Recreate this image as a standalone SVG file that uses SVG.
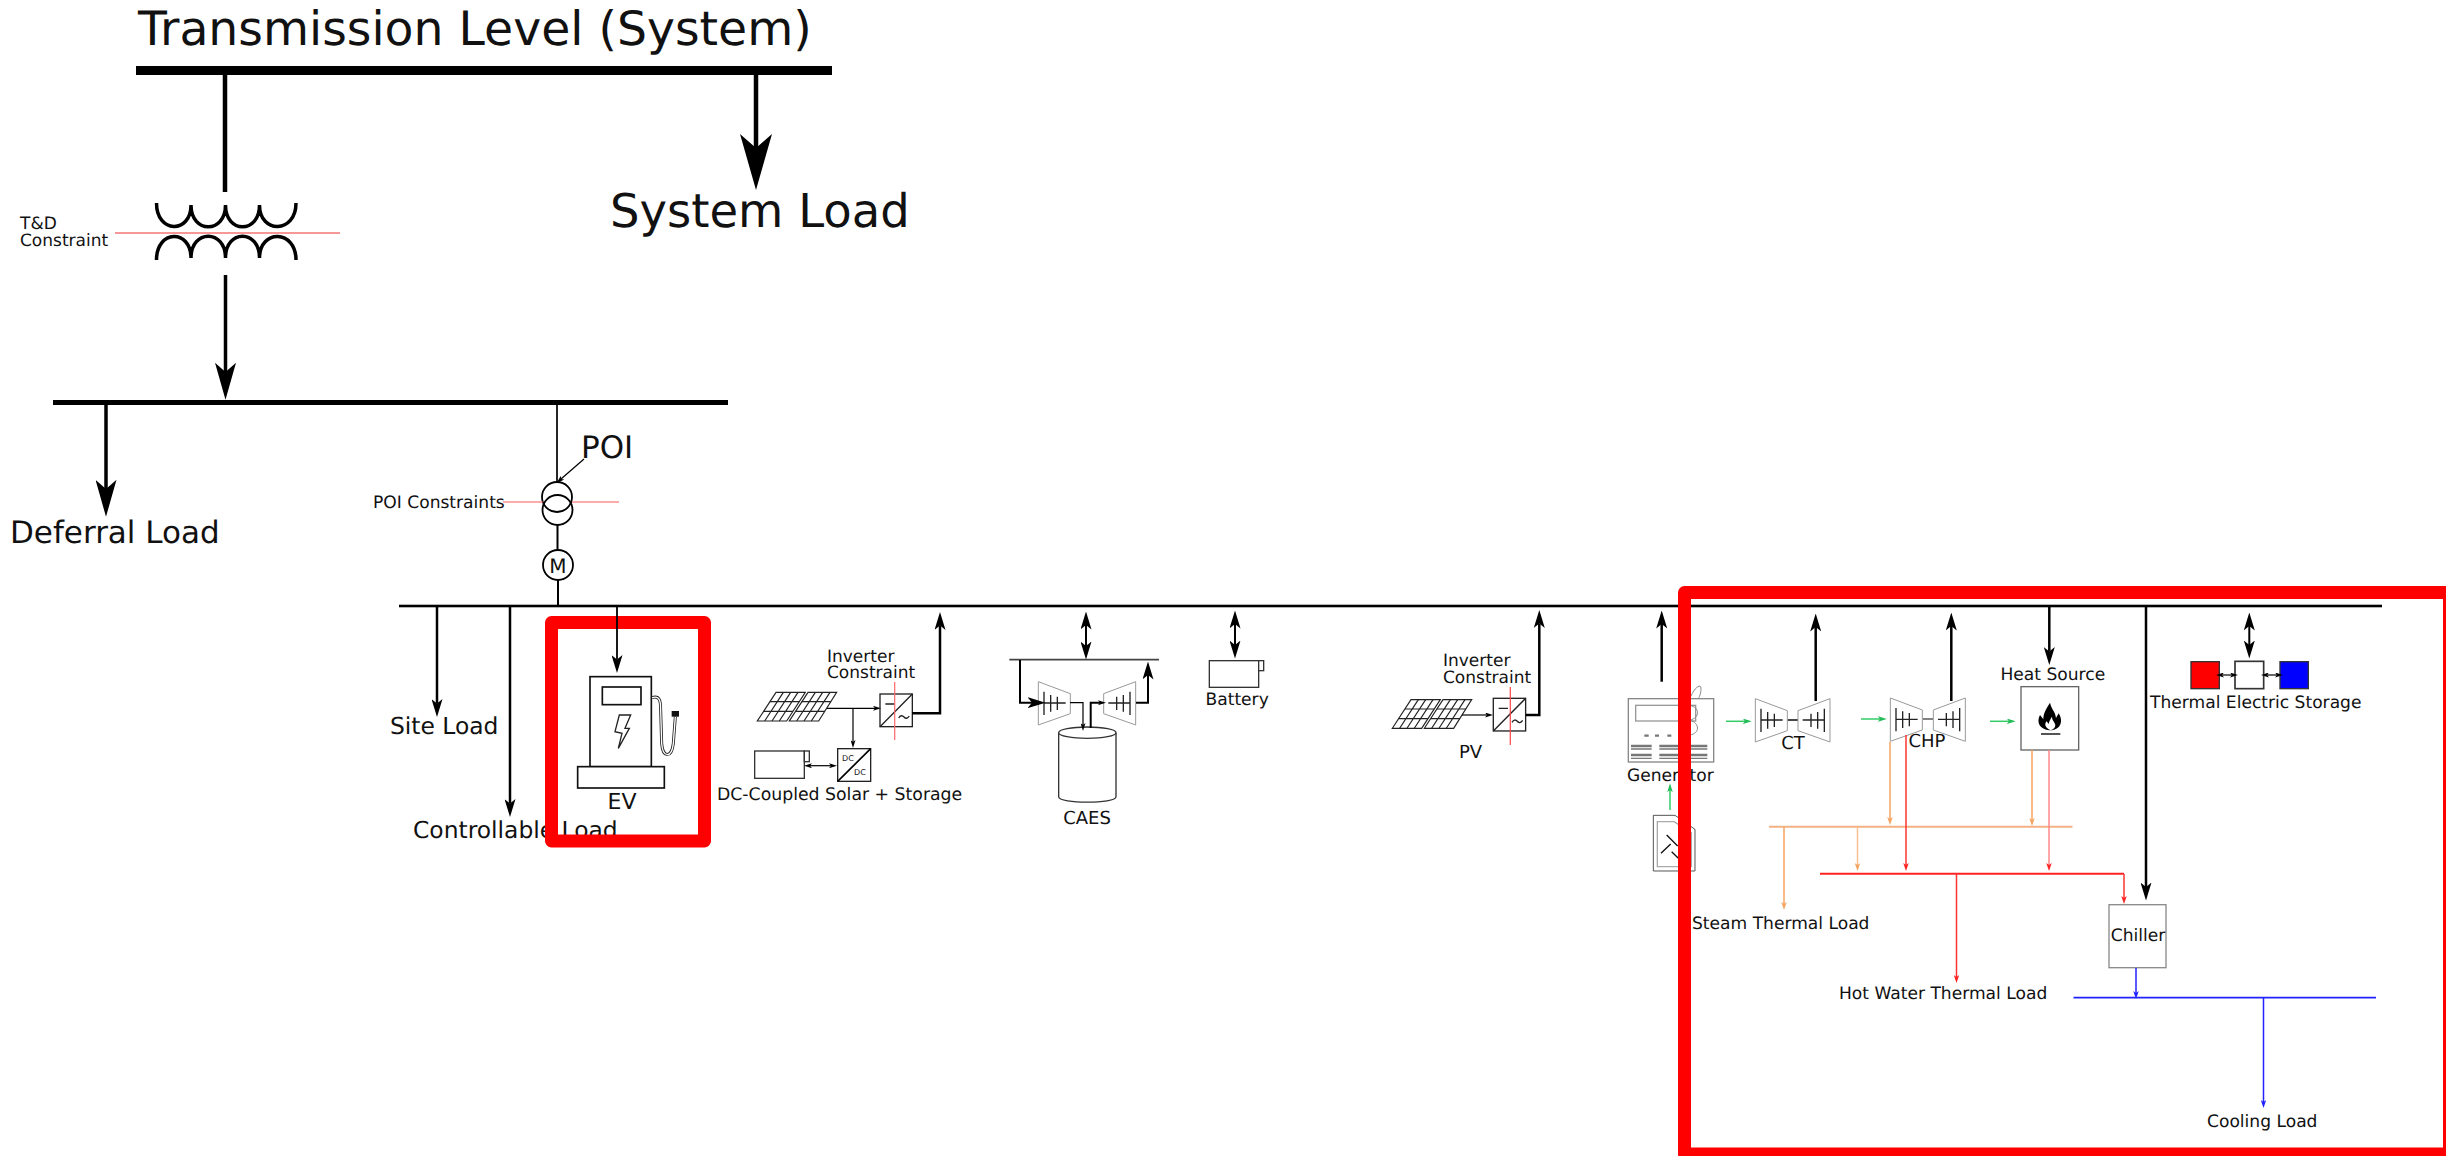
<svg xmlns="http://www.w3.org/2000/svg" width="2446" height="1156" viewBox="0 0 2446 1156">
<style>
text{font-family:"DejaVu Sans","Liberation Sans",sans-serif;fill:#111;text-rendering:geometricPrecision}
.t17{font-size:17.100px}.t16{font-size:17px}.t23{font-size:23.400px}.t30{font-size:31px}.t46{font-size:46.500px}
.ln{fill:none;stroke:#000}
.thin{fill:none;stroke:#000;stroke-width:5}
.hl{fill:none;stroke:#f00;stroke-width:13;stroke-linejoin:round}
.a{fill:none;stroke:#000;stroke-width:2.5}
.as{fill:none;stroke:#000;stroke-width:1.2}
.orange{fill:none;stroke:#f4a460;stroke-width:1.5}
.lorange{fill:none;stroke:#f8c090;stroke-width:1.5}
.red{fill:none;stroke:#f33;stroke-width:1.5}
.lred{fill:none;stroke:#f88;stroke-width:1.5}
.blue{fill:none;stroke:#22f;stroke-width:1.5}
.green{fill:none;stroke:#3c6;stroke-width:1.5}
</style>
<defs>
<marker id="hXL" markerUnits="userSpaceOnUse" markerWidth="56" markerHeight="32" viewBox="0 0 100 100" preserveAspectRatio="none" refX="25" refY="50" orient="auto-start-reverse"><path d="M0,0L100,50L0,100L25,50Z"/></marker>
<marker id="hL" markerUnits="userSpaceOnUse" markerWidth="37" markerHeight="21" viewBox="0 0 100 100" preserveAspectRatio="none" refX="25" refY="50" orient="auto-start-reverse"><path d="M0,0L100,50L0,100L25,50Z"/></marker>
<marker id="hM" markerUnits="userSpaceOnUse" markerWidth="18" markerHeight="11" viewBox="0 0 100 100" preserveAspectRatio="none" refX="25" refY="50" orient="auto-start-reverse"><path d="M0,0L100,50L0,100L25,50Z"/></marker>
<marker id="hS" markerUnits="userSpaceOnUse" markerWidth="8" markerHeight="5" viewBox="0 0 100 100" preserveAspectRatio="none" refX="25" refY="50" orient="auto-start-reverse"><path d="M0,0L100,50L0,100L25,50Z"/></marker>
<marker id="hO" markerUnits="userSpaceOnUse" markerWidth="8" markerHeight="5.5" viewBox="0 0 100 100" preserveAspectRatio="none" refX="25" refY="50" orient="auto"><path fill="#f4a460" d="M0,0L100,50L0,100L25,50Z"/></marker>
<marker id="hR" markerUnits="userSpaceOnUse" markerWidth="8" markerHeight="5.5" viewBox="0 0 100 100" preserveAspectRatio="none" refX="25" refY="50" orient="auto"><path fill="#f22" d="M0,0L100,50L0,100L25,50Z"/></marker>
<marker id="hB" markerUnits="userSpaceOnUse" markerWidth="8" markerHeight="5.5" viewBox="0 0 100 100" preserveAspectRatio="none" refX="25" refY="50" orient="auto"><path fill="#22f" d="M0,0L100,50L0,100L25,50Z"/></marker>
<marker id="hG" markerUnits="userSpaceOnUse" markerWidth="9" markerHeight="5.5" viewBox="0 0 100 100" preserveAspectRatio="none" refX="25" refY="50" orient="auto"><path fill="#2b5" d="M0,0L100,50L0,100L25,50Z"/></marker>
<g id="panel" fill="none" stroke="#222" stroke-width="3.500">
<path d="M172,393H260L316,307H228Z"/><path d="M191,364H279M210,335H298M194,393L250,307M216,393L272,307M238,393L294,307"/>
<path d="M268,393H356L410,307H324Z"/><path d="M287,364H375M305,335H393M290,393L346,307M312,393L368,307M334,393L390,307"/>
</g>
<g id="inv" fill="#fff" stroke="#222" stroke-width="4">
<rect x="0" y="0" width="97" height="98"/><path fill="none" d="M0,98L97,0M16,30H44M56,72q8,-12 16,-3t16,-3"/>
</g>
<g id="turb" fill="none">
<path d="M0,0L96,36V96L0,130Z" fill="#fff" stroke="#999" stroke-width="3"/>
<path stroke="#222" stroke-width="4" d="M17,30V100M37,40V90M57,45V85M17,64H82"/>
</g>
</defs>

<g id="tx-bus"><rect x="136" y="66" width="696" height="9"/><text font-size="47.300" x="138" y="45">Transmission Level (System)</text></g>
<g id="system-load"><text class="t46" x="610" y="227">System Load</text></g>
<g id="td-transformer">
<path class="ln" stroke-width="3.500" d="M156.500,203C156.500,234 191,234 191,205C191,234 225.500,234 225.500,205C225.500,234 259.500,234 259.500,205C259.500,234 296,234 296,203"/>
<path class="ln" stroke-width="3.500" d="M156.500,260C156.500,229 191,229 191,258C191,229 225.500,229 225.500,258C225.500,229 259.500,229 259.500,258C259.500,229 296,229 296,260"/>
<path stroke="#e33" stroke-width="1.200" d="M115,233H340"/>
<text class="t16" x="20" y="229">T&amp;D</text><text class="t16" x="20" y="246">Constraint</text>
</g>
<g id="dist-bus"><rect x="53" y="400" width="675" height="5"/></g>
<g id="deferral-load"><text class="t30" x="10" y="543">Deferral Load</text></g>
<g id="poi">
<circle class="ln" stroke-width="1.800" cx="557" cy="497" r="15"/><circle class="ln" stroke-width="1.800" cx="557.500" cy="510" r="15"/>
<path stroke="#f55" stroke-width="1" d="M503,502H543M572,502H619"/>
<text class="t30" x="581" y="458">POI</text>
<text class="t17" x="373" y="508">POI Constraints</text>
</g>
<g id="meter"><circle class="ln" stroke-width="1.800" cx="558" cy="565" r="15"/><text font-size="20" x="558" y="572.500" text-anchor="middle">M</text></g>
<g id="site-bus"><rect x="399" y="604.700" width="1983" height="2.600"/></g>
<g id="site-load"><text class="t23" x="390" y="734">Site Load</text></g>
<g id="controllable-load"><text class="t23" x="413" y="838">Controllable Load</text></g>
<g id="ev">
<g transform="translate(340,400) scale(.33333)">
<rect x="750" y="830" width="184" height="270" fill="#fff" stroke="#111" stroke-width="5"/>
<rect x="787" y="861" width="116" height="53" fill="#fff" stroke="#111" stroke-width="5"/>
<rect x="713" y="1100" width="260" height="64" fill="#fff" stroke="#111" stroke-width="5"/>
<path fill="#fff" stroke="#222" stroke-width="4" d="M838,945H872L855,985H868L835,1045L846,1000L825,995Z"/>
<path fill="none" stroke="#222" stroke-width="9" d="M936,893C960,885 962,905 962,930L965,1030C968,1075 995,1075 1000,1030L1006,950"/>
<path fill="none" stroke="#fff" stroke-width="4" d="M936,893C960,885 962,905 962,930L965,1030C968,1075 995,1075 1000,1030L1006,950"/>
<rect x="995" y="933" width="22" height="17" fill="#111"/>
</g>
<text font-size="22" x="622" y="809" text-anchor="middle">EV</text>
</g>
<g id="dc-solar-storage">
<use href="#panel" transform="translate(700,590) scale(.33333)"/>
<use href="#inv" transform="translate(880,694) scale(.33333)"/>
<g transform="translate(700,590) scale(.33333)">
<rect x="413" y="476" width="99" height="98" fill="#fff" stroke="#222" stroke-width="4"/><path class="thin" d="M413,574L512,476"/>
<rect x="164" y="483" width="149" height="82" fill="#fff" stroke="#333" stroke-width="4"/><rect x="313" y="483" width="15" height="32" fill="#fff" stroke="#333" stroke-width="4"/>
</g>
<path stroke="#f66" stroke-width="1.200" d="M894.700,682V740"/>
<text font-size="8" x="842" y="761" fill="#444">DC</text><text font-size="8" x="854" y="774.500" fill="#444">DC</text>
<text class="t16" x="827" y="662">Inverter</text><text class="t16" x="827" y="678">Constraint</text>
<text font-size="17.300" x="717" y="800">DC-Coupled Solar + Storage</text>
</g>
<g id="caes">
<g transform="translate(980,590) scale(.33333)">
<path d="M88,209H537" stroke="#444" stroke-width="5"/>
<use href="#turb" transform="translate(175,275)"/>
<use href="#turb" transform="translate(467,275) scale(-1,1)"/>
<path d="M236,428V620C236,642 408,642 408,620V428" fill="#fff" stroke="#333" stroke-width="4"/>
<ellipse cx="322" cy="428" rx="86" ry="17" fill="#fff" stroke="#333" stroke-width="4"/>
</g>
<text font-size="18" x="1087" y="824" text-anchor="middle">CAES</text>
</g>
<g id="battery">
<g transform="translate(980,590) scale(.33333)">
<rect x="688" y="212" width="148" height="80" fill="#fff" stroke="#333" stroke-width="4"/><rect x="836" y="212" width="15" height="30" fill="#fff" stroke="#333" stroke-width="4"/>
</g>
<text class="t17" x="1205.500" y="705">Battery</text>
</g>
<g id="pv">
<use href="#panel" transform="translate(1335,597.300) scale(.33333)"/>
<use href="#inv" transform="translate(1493.300,698.300) scale(.33333)"/>
<path stroke="#f44" stroke-width="1.200" d="M1510.300,687V745"/>
<text class="t16" x="1443" y="666">Inverter</text><text class="t16" x="1443" y="683">Constraint</text>
<text font-size="18" x="1459" y="758">PV</text>
</g>
<g id="generator">
<g transform="translate(1600,590) scale(.33333)">
<rect x="85" y="326" width="256" height="190" fill="#fff" stroke="#888" stroke-width="4"/>
<rect x="107" y="346" width="180" height="47" fill="#fff" stroke="#999" stroke-width="4"/>
<path fill="none" stroke="#888" stroke-width="3" d="M270,347C300,350 300,385 270,390C300,400 300,430 270,435M272,320C285,290 300,285 302,290C305,300 300,320 295,325"/>
<path stroke="#777" stroke-width="7" d="M133,437H146M165,437H177M202,437H214M93,468H155M178,468H322M93,495H155M178,495H322"/>
<path stroke="#777" stroke-width="4" d="M93,477H155M178,477H322M93,505H155M178,505H322"/>
</g>
<text class="t17" x="1627" y="781">Generator</text>
</g>
<g id="fuel">
<g transform="translate(1600,590) scale(.33333)">
<path d="M160,676H225L285,718V843H160Z" fill="#fff" stroke="#333" stroke-width="2.500"/>
<path d="M172,695H222L274,728V830H172Z" fill="none" stroke="#aaa" stroke-width="4"/>
<path stroke="#111" stroke-width="4" d="M200,735L233,768M183,790L212,762M215,785L235,805"/>
</g>
</g>
<g id="ct">
<g transform="translate(1600,590) scale(.33333)">
<path d="M562,390H595" stroke="#222" stroke-width="5"/>
<use href="#turb" transform="translate(466,326)"/><use href="#turb" transform="translate(690,326) scale(-1,1)"/>
</g>
<text font-size="18" x="1793" y="749" text-anchor="middle">CT</text>
</g>
<g id="chp">
<g transform="translate(1850,590) scale(.33333)">
<path d="M218,387H250" stroke="#444" stroke-width="4"/>
<use href="#turb" transform="translate(121,324)"/><use href="#turb" transform="translate(346,324) scale(-1,1)"/>
</g>
<text font-size="18" x="1927" y="747" text-anchor="middle">CHP</text>
</g>
<g id="heat-source">
<g transform="translate(1850,590) scale(.33333)">
<rect x="513" y="290" width="173" height="190" fill="#fff" stroke="#666" stroke-width="4"/>
<path d="M598,421C570,418 558,398 570,375L580,388C580,368 590,355 600,338C604,358 616,364 618,384L626,370C642,395 630,418 606,421Z"/>
<path fill="#fff" d="M600,420C586,414 582,402 590,394L596,402C598,392 602,386 606,380C606,392 616,398 616,406C616,414 610,418 604,420Z"/>
<rect x="573" y="430" width="58" height="4"/>
</g>
<text class="t17" x="2000.500" y="680">Heat Source</text>
</g>
<g id="thermal-electric-storage">
<g transform="translate(2120,590) scale(.33333)">
<rect x="213" y="215" width="85" height="81" fill="#f00" stroke="#333" stroke-width="4"/>
<rect x="345" y="214" width="86" height="82" fill="#fff" stroke="#333" stroke-width="5"/>
<rect x="480" y="215" width="85" height="81" fill="#00f" stroke="#333" stroke-width="4"/>
</g>
<text class="t17" x="2150" y="708">Thermal Electric Storage</text>
</g>
<g id="chiller"><rect x="2109" y="904.700" width="57" height="63" fill="#fff" stroke="#888" stroke-width="1.300"/><text class="t17" x="2138" y="941" text-anchor="middle">Chiller</text></g>
<g id="thermal-buses">
<path stroke="#f4b183" stroke-width="2" d="M1769,826.700H2072.500"/>
<path stroke="#f22" stroke-width="2" d="M1820,873.700H2124"/>
<path stroke="#22f" stroke-width="1.800" d="M2073.500,997.700H2376"/>
</g>
<g id="steam-load"><text class="t17" x="1692" y="929">Steam Thermal Load</text></g>
<g id="hot-water-load"><text class="t17" x="1839" y="999">Hot Water Thermal Load</text></g>
<g id="cooling-load"><text class="t17" x="2207" y="1127">Cooling Load</text></g>

<g id="highlights">
<rect class="hl" x="551.500" y="622.500" width="153" height="218.500"/>
<rect class="hl" x="1684.500" y="592.500" width="765" height="561.500"/>
</g>

<g id="connectors">
<path class="ln" stroke-width="4.500" d="M225,75V192"/>
<path class="ln" stroke-width="4.500" d="M756,75V148" marker-end="url(#hXL)"/>
<path class="ln" stroke-width="3.500" d="M225.500,275V372" marker-end="url(#hL)"/>
<path class="ln" stroke-width="3.500" d="M106,404V489" marker-end="url(#hL)"/>
<path class="ln" stroke-width="1.700" d="M557,405V482"/>
<path class="as" d="M584,459L561,479" marker-end="url(#hS)"/>
<path class="ln" stroke-width="2" d="M557.500,525V550M558,580V605"/>
<path class="a" d="M437,606V703.500" marker-end="url(#hM)"/>
<path class="a" d="M510,606V803.500" marker-end="url(#hM)"/>
<path class="ln" stroke-width="1.800" d="M617,606V659.500" marker-end="url(#hM)"/>
<path class="a" d="M912,713.300H940V625.500" marker-end="url(#hM)"/>
<path class="as" d="M827,708.300H875" marker-end="url(#hS)"/>
<path class="as" d="M853,708.300V742" marker-end="url(#hS)"/>
<path class="as" d="M810,765.700H831" marker-start="url(#hS)" marker-end="url(#hS)"/>
<path class="ln" stroke-width="2" d="M1086,625V646" marker-start="url(#hM)" marker-end="url(#hM)"/>
<path class="ln" stroke-width="2" d="M1020,660V702.700H1032" marker-end="url(#hM)"/>
<path class="as" d="M1070,702.700H1083V725" marker-end="url(#hS)"/>
<path class="ln" stroke-width="2" d="M1090.700,728V702.700H1100" marker-end="url(#hS)"/>
<path class="ln" stroke-width="2" d="M1136,702.700H1148V675" marker-end="url(#hM)"/>
<path class="ln" stroke-width="2" d="M1235,624V645" marker-start="url(#hM)" marker-end="url(#hM)"/>
<path class="a" d="M1525.700,715H1539.300V623.500" marker-end="url(#hM)"/>
<path class="as" d="M1462,715H1487" marker-end="url(#hS)"/>
<path class="a" d="M1661.700,681.700V624" marker-end="url(#hM)"/>
<path class="a" d="M1815.700,701V627" marker-end="url(#hM)"/>
<path class="a" d="M1951.300,701V626" marker-end="url(#hM)"/>
<path class="a" d="M2049.300,606V651.500" marker-end="url(#hM)"/>
<path class="a" d="M2146,606V887" marker-end="url(#hM)"/>
<path class="ln" stroke-width="2" d="M2249.300,626V645" marker-start="url(#hM)" marker-end="url(#hM)"/>
<path class="as" stroke-width="1" d="M2222,675H2232" marker-start="url(#hS)" marker-end="url(#hS)"/>
<path class="as" stroke-width="1" d="M2267,675H2277" marker-start="url(#hS)" marker-end="url(#hS)"/>
<path class="green" d="M1670,810V790" marker-end="url(#hG)"/>
<path class="green" d="M1726,721.300H1745" marker-end="url(#hG)"/>
<path class="green" d="M1861,719H1880" marker-end="url(#hG)"/>
<path class="green" d="M1990,721.300H2009" marker-end="url(#hG)"/>
<path class="orange" d="M1890,742V819" marker-end="url(#hO)"/>
<path class="orange" d="M2032,750V820" marker-end="url(#hO)"/>
<path class="red" d="M1906,735V865" marker-end="url(#hR)"/>
<path class="lred" d="M2049,750V865" marker-end="url(#hR)"/>
<path class="orange" d="M1784,827V904" marker-end="url(#hO)"/>
<path class="lorange" d="M1857.500,827V865" marker-end="url(#hO)"/>
<path class="red" d="M1956.500,874V977" marker-end="url(#hR)"/>
<path class="red" d="M2124,874V898" marker-end="url(#hR)"/>
<path class="blue" d="M2136,968V993" marker-end="url(#hB)"/>
<path class="blue" d="M2263.500,998V1102" marker-end="url(#hB)"/>
</g>
</svg>
